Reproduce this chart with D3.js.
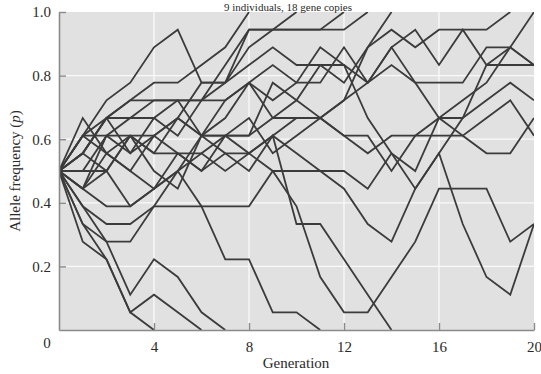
<!DOCTYPE html>
<html><head><meta charset="utf-8">
<script src="https://cdn.jsdelivr.net/npm/d3@7"></script>
<style>body{margin:0;background:#fff}svg{display:block}</style>
</head><body>
<svg id="c" width="541" height="374"></svg>
<script>
const copies = 18;
const xTicks = [4, 8, 12, 16, 20];
const yTicks = [0.2, 0.4, 0.6, 0.8, 1.0];
// gene-copy counts (out of 18) per generation for each population
const lost1 = [9,5,4,1,0];
const lost2 = [9,6,4,1,2,1,0];
const lost3 = [9,7,5,2,4,3,1,0];
const lost4 = [9,7,6,6,7,7,7,4,4,1,1,0];
const lost5 = [9,11,10,9,8,10,9,10,9,11,6,6,4,2,0];
const fixed1 = [9,10,12,13,14,14,15,16,18];
const fixed2 = [9,11,13,14,16,17,14,14,16,17,18];
const fixed3 = [9,10,12,12,13,13,13,15,17,17,17,17,18];
const fixed4 = [9,8,10,11,11,12,14,14,17,17,17,17,17,18];
const fixed5 = [9,9,11,12,12,11,13,13,14,12,13,15,14,16,18];
const fixed6 = [9,11,12,10,11,12,11,11,11,14,13,12,13,16,17,16,17,17,17,18];
const fixed7 = [9,8,9,11,10,12,11,13,14,15,14,14,16,14,15,14,12,13,14,16,18];
const surv1 = [9,10,12,13,13,13,13,14,15,16,15,15,15,14,16,17,15,17,15,16,15];
const surv2 = [9,11,11,10,12,13,11,11,12,10,11,12,13,14,16,14,14,14,16,16,15];
const surv3 = [9,9,9,11,10,10,10,11,10,11,12,12,11,11,9,11,12,12,15,15,15];
const surv4 = [9,8,11,11,9,8,11,12,14,13,14,16,15,12,10,8,10,12,13,14,13];
const surv5 = [9,12,10,9,11,10,9,11,11,12,12,12,11,10,11,11,11,11,10,10,12];
const surv6 = [9,10,9,7,8,9,7,7,7,9,9,9,9,8,10,9,12,11,12,13,11];
const surv7 = [9,8,7,7,8,9,10,9,10,9,7,3,1,1,3,5,8,8,8,5,6];
const surv8 = [9,6,5,5,7,9,11,10,10,11,10,9,8,6,5,8,10,6,3,2,6];
const populations = [lost1,lost2,lost3,lost4,lost5,fixed1,fixed2,fixed3,fixed4,fixed5,fixed6,fixed7,
  surv1,surv2,surv3,surv4,surv5,surv6,surv7,surv8];

const svg = d3.select('#c');
const x = d3.scaleLinear().domain([0, 20]).range([59, 534]);
const y = d3.scaleLinear().domain([0, 1]).range([330, 12]);
const font = '"Liberation Serif", "DejaVu Serif", serif';

svg.append('rect').attr('x', x(0)).attr('y', y(1)).attr('width', x(20)-x(0)).attr('height', y(0)-y(1)).attr('fill', '#e1e1e1');
svg.append('defs').append('clipPath').attr('id','clip').append('rect')
  .attr('x', x(0)).attr('y', y(1)).attr('width', x(20)-x(0)).attr('height', y(0)-y(1));

const grid = svg.append('g').attr('stroke', '#fafafa').attr('stroke-width', 1.3);
grid.selectAll('.gx').data(xTicks.slice(0,4)).join('line')
  .attr('x1', d=>x(d)).attr('x2', d=>x(d)).attr('y1', y(0)).attr('y2', y(1));
grid.selectAll('.gy').data(yTicks.slice(0,4)).join('line')
  .attr('x1', x(0)).attr('x2', x(20)).attr('y1', d=>y(d)).attr('y2', d=>y(d));

const line = d3.line().x((d,i)=>x(i)).y(d=>y(d/copies));
svg.append('g').attr('clip-path','url(#clip)').selectAll('path').data(populations).join('path')
  .attr('d', line).attr('fill','none').attr('stroke','#3b3b3b').attr('stroke-width',1.8).attr('stroke-linejoin','miter');

const ya = svg.append('g').attr('transform', `translate(${x(0)},0)`)
  .call(d3.axisLeft(y).tickValues(yTicks).tickFormat(d3.format('.1f')).tickSizeInner(-7).tickSizeOuter(0).tickPadding(8));
const xa = svg.append('g').attr('transform', `translate(0,${y(0)})`)
  .call(d3.axisBottom(x).tickValues(xTicks).tickFormat(d3.format('d')).tickSizeInner(-7).tickSizeOuter(0).tickPadding(11));
[ya, xa].forEach(a => {
  a.select('.domain').attr('stroke', '#8a8a8a').attr('stroke-width', 1.6);
  a.selectAll('.tick line').attr('stroke', '#8a8a8a').attr('stroke-width', 1.4);
  a.selectAll('.tick text').attr('font-family', font).attr('font-size', 15).attr('fill', '#2a2a2a');
});
svg.append('text').attr('x', 47).attr('y', 348).attr('text-anchor','middle')
  .attr('font-family', font).attr('font-size', 15).attr('fill', '#2a2a2a').text('0');
svg.append('text').attr('x', 296).attr('y', 368).attr('text-anchor','middle')
  .attr('font-family', font).attr('font-size', 15).attr('fill', '#2a2a2a').text('Generation');
const yl = svg.append('text').attr('transform', 'translate(20,171) rotate(-90)').attr('text-anchor','middle')
  .attr('font-family', font).attr('font-size', 15).attr('fill', '#2a2a2a');
yl.append('tspan').text('Allele frequency (');
yl.append('tspan').attr('font-style','italic').text('p');
yl.append('tspan').text(')');
svg.append('text').attr('x', 288).attr('y', 10.5).attr('text-anchor','middle')
  .attr('font-family', font).attr('font-size', 11).attr('fill', '#2a2a2a').text('9 individuals, 18 gene copies');
</script>
</body></html>
